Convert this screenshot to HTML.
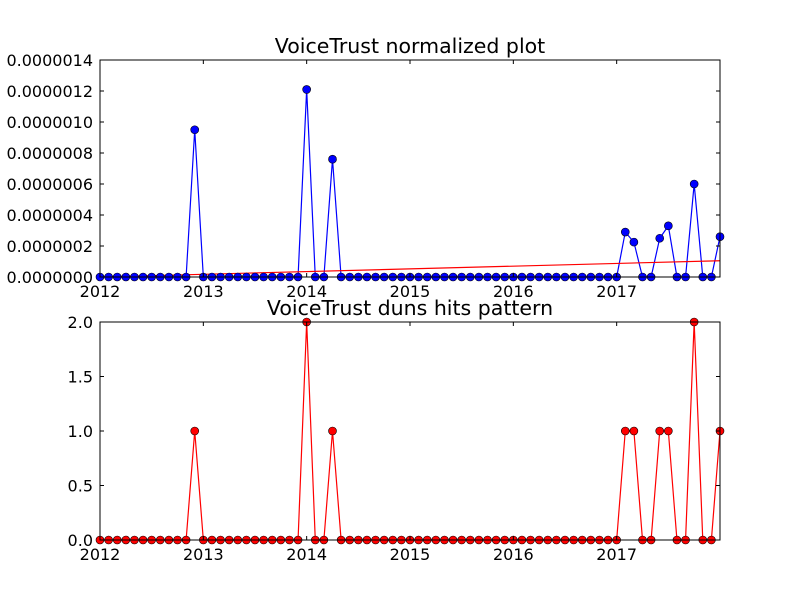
<!DOCTYPE html>
<html><head><meta charset="utf-8"><style>
body{margin:0;background:#fff;}
svg text{font-family:"DejaVu Sans","Liberation Sans",sans-serif;}
</style></head><body>
<svg id="fig" width="800" height="600" xmlns="http://www.w3.org/2000/svg">
<rect width="800" height="600" fill="#fff"/>
</svg>
<script>
const yearLabels = ["2012","2013","2014","2015","2016","2017"];
const hitIdx = [11,24,27,61,62,65,66,69,72];
const hitVals = [1,2,1,1,1,1,1,2,1];
const normVals = [9.5e-7,1.21e-6,7.6e-7,2.9e-7,2.25e-7,2.5e-7,3.3e-7,6e-7,2.6e-7];
const trendStart = 0.0, trendEnd = 1.05e-7;
const topTicks = [0,2e-7,4e-7,6e-7,8e-7,1e-6,1.2e-6,1.4e-6];
const topTickLabels = ["0.0000000","0.0000002","0.0000004","0.0000006","0.0000008","0.0000010","0.0000012","0.0000014"];
const botTicks = [0,0.5,1,1.5,2];
const botTickLabels = ["0.0","0.5","1.0","1.5","2.0"];
const nPts = 73;

const svg = document.getElementById('fig');
const NS = 'http://www.w3.org/2000/svg';
function mk(tag, attrs, parent){const e=document.createElementNS(NS,tag);for(const k in attrs)e.setAttribute(k,attrs[k]);(parent||svg).appendChild(e);return e;}
const X0=100,X1=720;
const xs = i => X0 + (X1-X0)*i/72;

function series(vals){const a=new Array(nPts).fill(0);hitIdx.forEach((k,j)=>a[k]=vals[j]);return a;}

function panel(name,top,bot,ymax,vals,color,ticks,labels,title,trend){
  const ys=v=>bot-(bot-top)*v/ymax;
  const g=mk('g',{});
  
  
  const t=mk('text',{x:410,y:top-7,'font-size':20.5,'text-anchor':'middle'},g);t.textContent=title;
  
  const data=series(vals);
  const pts=data.map((v,i)=>xs(i)+','+ys(v)).join(' ');
  const line=mk('polyline',{points:pts,fill:'none',stroke:color,'stroke-width':1.2},g);
  
  if(trend){const tl=mk('line',{x1:X0,y1:ys(trend[0]),x2:X1,y2:ys(trend[1]),stroke:'#ff0000','stroke-width':1.2},g);
    }
  data.forEach((v,i)=>{const c=mk('circle',{cx:xs(i),cy:ys(v),r:4,fill:color,stroke:'#000','stroke-width':0.6},g);
    });
  mk('rect',{x:X0,y:top,width:X1-X0,height:bot-top,fill:'none',stroke:'#000','stroke-width':1},g);
  ticks.forEach((tv,j)=>{const y=ys(tv);
    mk('line',{x1:X0,y1:y,x2:X0+4,y2:y,stroke:'#000'},g);mk('line',{x1:X1,y1:y,x2:X1-4,y2:y,stroke:'#000'},g);
    const tx=mk('text',{x:X0-7,y:y+6,'font-size':16,'text-anchor':'end'},g);tx.textContent=labels[j];
    });
  yearLabels.forEach((yl,j)=>{const x=xs(j*12);
    mk('line',{x1:x,y1:bot,x2:x,y2:bot-4,stroke:'#000'},g);mk('line',{x1:x,y1:top,x2:x,y2:top+4,stroke:'#000'},g);
    const tx=mk('text',{x:x,y:bot+20,'font-size':16,'text-anchor':'middle'},g);tx.textContent=yl;
    });
}
panel('top-plot',60,277,1.4e-6,normVals,'#0000ff',topTicks,topTickLabels,'VoiceTrust normalized plot',[trendStart,trendEnd]);
panel('bottom-plot',322,540,2,hitVals,'#ff0000',botTicks,botTickLabels,'VoiceTrust duns hits pattern',null);
</script>
</body></html>
